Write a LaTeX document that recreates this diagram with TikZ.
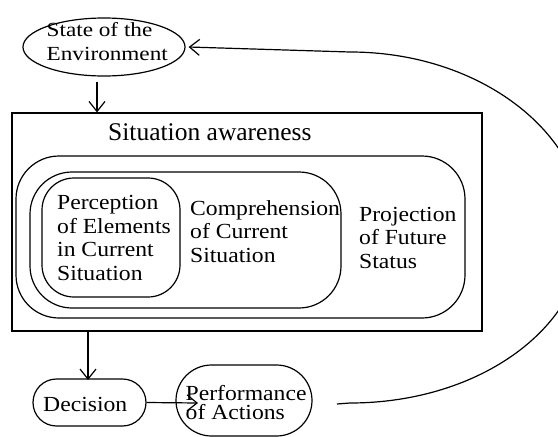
\documentclass[tikz,border=0pt]{standalone}
\usepackage{fontspec}
\setmainfont{Liberation Serif}
\newfontfamily\boxfont{Liberation Serif}[FakeStretch=1.1]
\newfontfamily\envfont{Liberation Serif}[FakeStretch=1.16]
\usetikzlibrary{shapes.geometric,arrows.meta}

\tikzset{
  frame/.style={draw, line width=1.2pt, inner sep=0pt},
  label/.style={inner sep=0pt, anchor=base west, align=left},
  txt/.style={label, font=\boxfont\fontsize{21.5}{23.4}\selectfont},
  arr/.style={line width=1.2pt, -{Straight Barb[length=10pt,width=16pt,line width=1.2pt]}}
}

\begin{document}
\begin{tikzpicture}[x=1pt, y=-1pt]
  \useasboundingbox (0,0) rectangle (558,437);

  % environment state (multi-line labels are anchored at their last baseline)
  \node[frame, ellipse, minimum width=162pt, minimum height=58pt] (env) at (104,47) {};
  \node[label, font=\envfont\fontsize{20}{24}\selectfont] (envtxt) at (46.5,60)
    {State of the\\Environment};

  % situation awareness block
  \node[frame, minimum width=470pt, minimum height=218pt] (sa) at (247,222) {};
  \node[label, font=\fontsize{25.5}{28}\selectfont] (satxt) at (108,140) {Situation awareness};

  \node[frame, rounded corners=43pt, minimum width=449pt, minimum height=162pt] (proj) at (240.5,237) {};
  \node[frame, rounded corners=42pt, minimum width=311pt, minimum height=136pt] (comp) at (185.5,240) {};
  \node[frame, rounded corners=32pt, minimum width=138pt, minimum height=119pt] (perc) at (111,237.5) {};

  \node[txt] (perctxt) at (57,280) {Perception\\of Elements\\in Current\\Situation};
  \node[txt, font=\boxfont\fontsize{21.5}{23.5}\selectfont] (comptxt) at (190,262) {Comprehension\\of Current\\Situation};
  \node[txt, font=\boxfont\fontsize{21.5}{23.5}\selectfont] (projtxt) at (359,268) {Projection\\of Future\\Status};

  % decision and action
  \node[frame, rounded corners=23.5pt, minimum width=113pt, minimum height=47pt] (dec) at (89.5,402.5) {};
  \node[txt] (dectxt) at (43,411) {Decision};
  \node[frame, rounded corners=35.5pt, minimum width=136pt, minimum height=71pt] (perf) at (244,400.5) {};
  \node[txt, font=\boxfont\fontsize{21.5}{19}\selectfont] (perftxt) at (185.5,419) {Performance\\of Actions};

  % connectors
  \coordinate (envout) at (97,82);
  \draw[arr] (envout) -- (envout |- sa.north);
  \draw[arr] ([yshift=2pt]sa.south -| 88,0) -- (88,380);
  \coordinate (perfin) at (198,403);
  \draw[arr] (dec.east) -- (perfin);
  \coordinate (loopstart) at (337,404);
  \coordinate (envin) at ([xshift=3pt]env.east);
  \draw[arr] (loopstart) -- (350,403)
    .. controls (480,403) and (585,327) .. (585,230)
    .. controls (585,133) and (480,52) .. (350,52)
    -- (envin);
\end{tikzpicture}
\end{document}
